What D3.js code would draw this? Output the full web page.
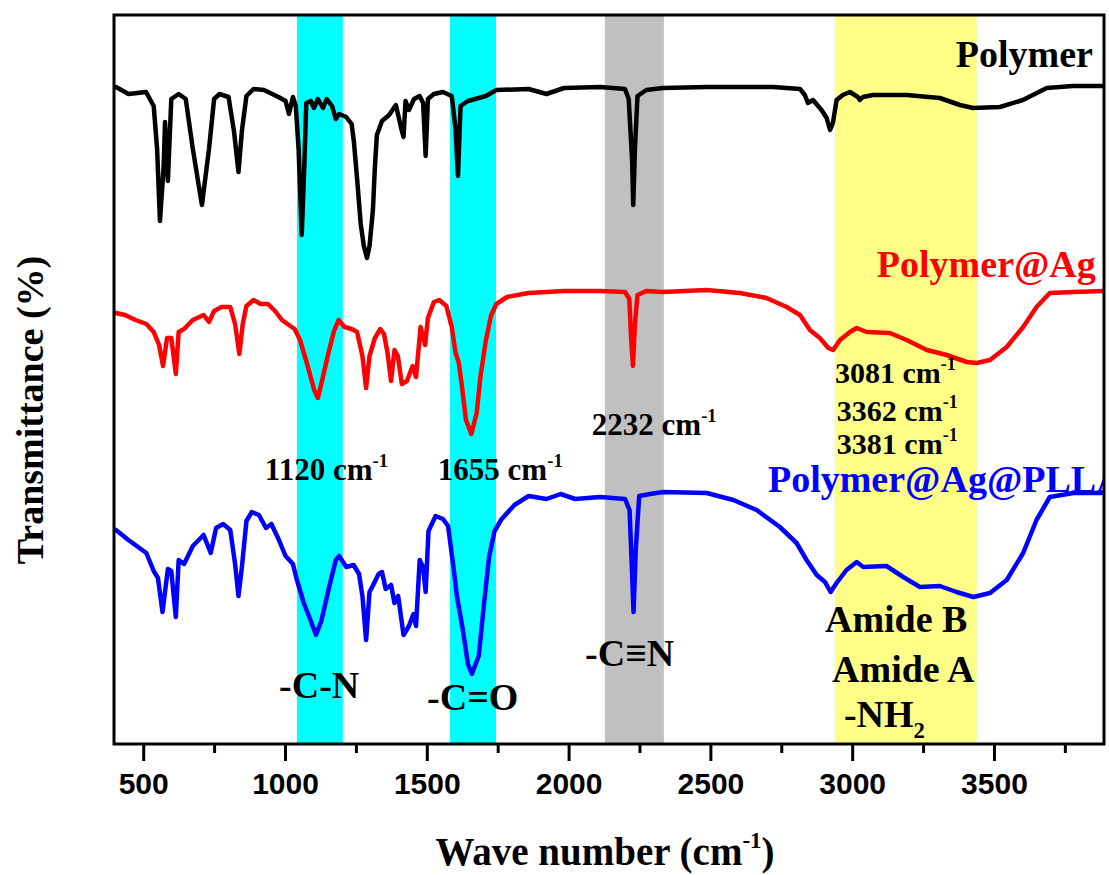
<!DOCTYPE html>
<html>
<head>
<meta charset="utf-8">
<script src="https://cdn.jsdelivr.net/npm/d3@7"></script>
<style>
  html, body { margin: 0; padding: 0; background: #fff; }
  svg { display: block; }
</style>
</head>
<body>
<svg id="chart" width="1109" height="875"></svg>
<script>
// ---------------- DATA ----------------
const polymerWn = [404,448,510,537,549,559,572,577,587,599,625,650,675,707,732,750,769,801,820,836,848,864,889,926,977,1002,1014,1028,1038,1048,1059,1068,1075,1091,1102,1116,1134,1147,1166,1179,1191,1216,1235,1243,1254,1267,1278,1289,1298,1310,1317,1324,1342,1367,1391,1412,1418,1425,1437,1455,1475,1487,1496,1504,1525,1557,1588,1601,1610,1619,1645,1708,1745,1859,1922,1984,2111,2199,2212,2224,2228,2234,2243,2274,2333,2487,2721,2816,2833,2844,2862,2892,2910,2922,2932,2945,2967,2992,3020,3027,3038,3073,3192,3309,3380,3426,3521,3602,3686,3778,3891];
const polymerT  = [65.7,65.0,65.2,63.8,59.5,52.3,57.7,62.2,56.3,64.5,65.0,64.5,59.5,53.9,59.5,64.5,65.0,64.7,61.3,57.2,61.3,64.8,65.5,65.4,64.7,64.3,63.0,64.7,63.8,59.5,50.9,57.7,64.1,64.3,63.6,64.5,63.6,64.5,63.8,62.5,63.0,62.7,62.0,60.2,56.6,52.0,49.8,48.6,49.8,53.4,57.7,60.9,62.3,62.9,63.9,61.3,60.7,64.3,63.4,64.5,64.8,64.1,58.8,64.5,65.0,65.2,64.8,61.6,56.8,63.8,64.3,64.8,65.4,65.5,65.0,65.6,65.7,65.5,64.5,58.4,53.9,59.5,64.8,65.4,65.6,65.7,65.7,65.5,64.9,64.1,64.4,63.4,62.6,61.4,62.1,64.4,64.9,65.2,64.7,64.4,64.7,64.9,64.9,64.6,63.9,63.6,63.7,64.4,65.6,65.8,65.8];

const agWn = [404,436,473,511,537,556,570,584,599,615,625,644,675,713,732,750,776,807,824,839,851,864,889,914,940,965,989,1014,1034,1053,1077,1103,1116,1128,1154,1173,1189,1210,1235,1254,1273,1286,1298,1317,1336,1349,1361,1374,1386,1398,1412,1430,1450,1462,1471,1478,1494,1504,1525,1544,1569,1588,1601,1613,1626,1638,1657,1676,1689,1708,1726,1745,1783,1859,1984,2111,2199,2214,2221,2227,2234,2243,2274,2333,2487,2604,2698,2769,2816,2851,2886,2916,2933,2957,2992,3016,3051,3133,3192,3263,3333,3404,3439,3486,3545,3603,3650,3697,3780,3891];
const agT  = [43.1,42.9,42.4,42.0,41.2,39.9,37.8,40.6,40.6,37.0,41.2,41.5,42.4,42.9,42.2,43.3,43.7,43.7,42.0,39.0,42.0,43.8,44.4,44.0,44.0,43.3,42.4,41.9,41.5,40.4,38.1,35.4,34.6,36.0,39.2,41.3,42.4,41.7,41.5,41.2,38.8,35.6,38.8,40.6,41.5,41.0,39.2,36.3,39.4,38.8,36.0,36.3,37.8,36.7,39.5,41.7,39.9,42.6,44.2,44.4,43.8,41.7,39.2,38.1,35.3,32.4,31.0,33.1,36.7,40.3,42.8,44.0,44.7,45.1,45.3,45.3,45.2,44.5,40.3,37.8,42.0,44.9,45.3,45.2,45.4,45.1,44.6,43.7,42.9,41.4,40.6,39.6,39.4,40.4,41.2,41.6,41.2,41.1,40.4,39.4,38.9,38.2,38.1,38.4,39.7,41.7,43.7,45.1,45.2,45.3];

const pllaWn = [404,448,511,537,552,568,587,599,615,625,644,675,713,738,757,782,807,824,836,848,864,883,908,933,952,977,1002,1028,1040,1066,1091,1109,1128,1154,1179,1191,1216,1242,1261,1273,1286,1298,1311,1330,1342,1355,1374,1386,1399,1418,1437,1453,1462,1475,1487,1496,1506,1531,1557,1575,1594,1606,1626,1645,1659,1683,1702,1720,1739,1764,1809,1859,1922,1972,2023,2111,2199,2215,2224,2229,2237,2249,2287,2334,2487,2581,2663,2745,2804,2839,2875,2904,2924,2945,2980,3016,3039,3121,3180,3239,3309,3368,3427,3486,3545,3603,3650,3697,3780,3891];
const pllaT  = [21.4,20.4,19.1,17.3,16.6,13.2,17.5,17.3,12.7,18.4,18.0,19.8,20.9,19.1,21.6,22.0,21.4,18.0,14.8,17.7,22.3,23.2,22.9,21.6,22.0,20.5,18.8,18.0,16.6,14.1,12.3,10.9,12.3,15.5,18.4,18.8,17.7,17.9,17.0,14.8,10.4,15.2,15.9,17.0,17.2,15.5,15.9,14.1,14.8,10.9,11.8,13.0,11.8,18.4,17.7,15.2,21.3,22.8,22.5,21.8,17.7,14.8,11.6,8.0,7.0,8.8,14.1,18.8,21.3,22.5,23.9,24.8,24.5,25.0,24.5,24.7,24.5,23.4,17.0,13.2,19.5,24.8,25.0,25.2,25.1,24.4,23.4,21.7,20.1,18.4,16.9,16.2,15.2,16.1,17.4,18.2,17.7,17.8,16.7,15.7,15.8,15.2,14.7,15.1,16.4,19.1,22.4,24.7,25.1,25.1];

const seriesNames  = ["Polymer", "Polymer@Ag", "Polymer@Ag@PLLA"];
const seriesColors = ["#000000", "#ff0000", "#0000ff"];

// highlighted bands [from, to] in cm-1
const bandStart  = [1042, 1582, 2128, 2939];
const bandEnd    = [1204, 1744, 2336, 3439];
const bandColors = ["#00ffff", "#00ffff", "#c0c0c0", "#ffff88"];

const majorTicks = [500, 1000, 1500, 2000, 2500, 3000, 3500];
const minorTicks = [750, 1250, 1750, 2250, 2750, 3250, 3750];

// annotation texts: main, superscript, subscript, anchor wavenumber, anchor transmittance
const annText   = ["1120 cm", "1655 cm", "2232 cm", "-C-N", "-C=O", "-C\u2261N", "3081 cm", "3362 cm", "3381 cm", "Amide B", "Amide A", "-NH"];
const annSup    = ["-1", "-1", "-1", "", "", "", "-1", "-1", "-1", "", "", ""];
const annSub    = ["", "", "", "", "", "", "", "", "", "", "", "2"];
const annX      = [929, 1539, 2082, 979, 1501, 2058, 2939, 2946, 2946, 2904, 2929, 2971];
const annY      = [26.4, 26.4, 30.9, 4.6, 3.4, 7.8, 36.1, 32.3, 29.0, 11.2, 6.2, 1.7];
const annSize   = [31, 31, 31, 38, 38, 38, 30, 30, 30, 38, 38, 38];

// series labels
const labelX     = [3849, 3087, 2703];
const labelY     = [67.7, 46.7, 25.2];
const labelAnchor= ["end", "start", "start"];

// ---------------- LAYOUT ----------------
const L = 114, R = 1104, T = 15, B = 744;
const svg = d3.select("#chart");
const serif = "'Liberation Serif','Times New Roman',Times,serif";
const sans  = "'Liberation Sans',Arial,Helvetica,sans-serif";

const x = d3.scaleLinear().domain([397, 3888]).range([L, R]);
const y = d3.scaleLinear().domain([0, 72.9]).range([B, T]);

svg.append("defs").append("clipPath").attr("id", "plotclip")
  .append("rect").attr("x", L).attr("y", T).attr("width", R - L).attr("height", B - T);

const plot = svg.append("g").attr("clip-path", "url(#plotclip)");

// bands
plot.selectAll("rect.band").data(bandStart.map((s, i) => ({s, e: bandEnd[i], c: bandColors[i]})))
  .enter().append("rect").attr("class", "band")
  .attr("x", d => x(d.s)).attr("width", d => x(d.e) - x(d.s))
  .attr("y", T).attr("height", B - T)
  .attr("fill", d => d.c);

// spectra
const series = [
  polymerWn.map((w, i) => [w, polymerT[i]]),
  agWn.map((w, i) => [w, agT[i]]),
  pllaWn.map((w, i) => [w, pllaT[i]])
];
const line = d3.line().x(d => x(d[0])).y(d => y(d[1])).curve(d3.curveLinear);
plot.selectAll("path.spec").data(series).enter().append("path")
  .attr("class", "spec")
  .attr("d", line)
  .attr("fill", "none")
  .attr("stroke", (d, i) => seriesColors[i])
  .attr("stroke-width", 4.5)
  .attr("stroke-linejoin", "round")
  .attr("stroke-linecap", "round");

// series labels
plot.selectAll("text.slab").data(seriesNames).enter().append("text")
  .attr("class", "slab")
  .attr("x", (d, i) => x(labelX[i]))
  .attr("y", (d, i) => y(labelY[i]))
  .attr("text-anchor", (d, i) => labelAnchor[i])
  .attr("font-family", serif).attr("font-weight", "bold").attr("font-size", 38)
  .attr("fill", (d, i) => seriesColors[i])
  .text(d => d);

// annotations
annText.forEach((t, i) => {
  const tx = svg.append("text")
    .attr("x", x(annX[i])).attr("y", y(annY[i]))
    .attr("font-family", serif).attr("font-weight", "bold")
    .attr("font-size", annSize[i]).attr("fill", "#000");
  tx.append("tspan").text(t);
  if (annSup[i]) {
    tx.append("tspan").attr("font-size", annSize[i] * 0.6).attr("dy", -annSize[i] * 0.42).text(annSup[i]);
  }
  if (annSub[i]) {
    tx.append("tspan").attr("font-size", annSize[i] * 0.6).attr("dy", annSize[i] * 0.3).text(annSub[i]);
  }
});

// frame
svg.append("rect").attr("x", L).attr("y", T).attr("width", R - L).attr("height", B - T)
  .attr("fill", "none").attr("stroke", "#000").attr("stroke-width", 3);

// bottom axis
const axMajor = svg.append("g").attr("transform", `translate(0,${B})`)
  .call(d3.axisBottom(x).tickValues(majorTicks).tickSize(17).tickPadding(12).tickFormat(d3.format("d")));
const axMinor = svg.append("g").attr("transform", `translate(0,${B})`)
  .call(d3.axisBottom(x).tickValues(minorTicks).tickSize(9).tickFormat(""));
[axMajor, axMinor].forEach(g => {
  g.select(".domain").remove();
  g.selectAll("line").attr("stroke", "#000").attr("stroke-width", 3);
});
axMajor.selectAll("text").attr("font-family", sans).attr("font-weight", "bold")
  .attr("font-size", 30).attr("fill", "#000");

// axis titles
const xt = svg.append("text").attr("x", 605).attr("y", 865).attr("text-anchor", "middle")
  .attr("font-family", serif).attr("font-weight", "bold").attr("font-size", 39);
xt.append("tspan").text("Wave number (cm");
xt.append("tspan").attr("font-size", 23).attr("dy", -17).text("-1");
xt.append("tspan").attr("dy", 17).text(")");

svg.append("text").attr("transform", "translate(43,410) rotate(-90)")
  .attr("text-anchor", "middle")
  .attr("font-family", serif).attr("font-weight", "bold").attr("font-size", 38)
  .text("Transmittance (%)");
</script>
</body>
</html>
